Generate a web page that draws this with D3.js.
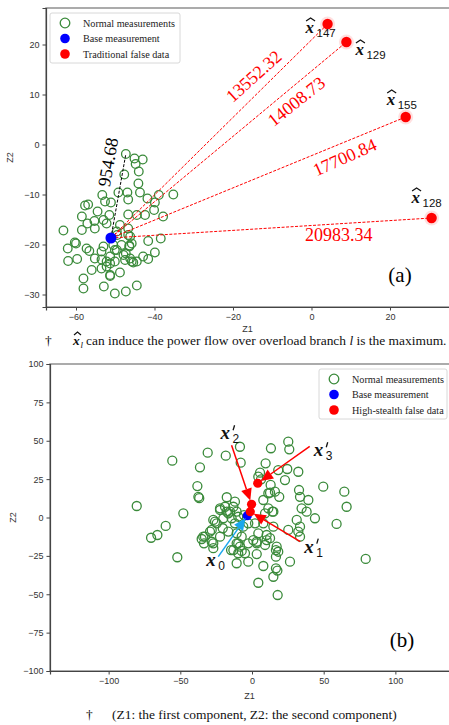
<!DOCTYPE html>
<html>
<head>
<meta charset="utf-8">
<script src="https://cdn.jsdelivr.net/npm/d3@7"></script>
<style>
  body { margin: 0; background: #fff; }
  svg { display: block; }
</style>
</head>
<body>
<svg id="chart" width="449" height="725"></svg>
<script>
// ---- panel (a) data ----
const topNormal = [
  [-47.3,-1.9],[-45.1,-2.8],[-43.0,-3.0],[-44.8,-3.9],[-47.7,-6.0],[-44.0,-5.4],[-44.1,-7.8],[-43.7,-9.6],
  [-46.9,-9.6],[-46.7,-11.0],[-49.2,-9.6],[-53.3,-10.1],[-52.6,-11.4],[-51.1,-11.6],[-56.9,-12.0],[-57.7,-12.2],
  [-51.5,-14.1],[-54.5,-13.4],[-58.5,-14.4],[-57.1,-15.8],[-55.3,-15.3],[-53.0,-15.1],[-55.2,-16.8],[-58.5,-17.1],
  [-63.2,-17.2],[-41.8,-10.8],[-39.9,-11.6],[-38.9,-10.1],[-44.5,-14.1],[-42.4,-14.1],[-46.7,-14.0],[-48.8,-16.1],
  [-46.7,-16.8],[-49.5,-18.1],[-46.2,-18.4],[-41.6,-19.3],[-38.4,-18.8],[-60.3,-19.6],[-62.1,-20.8],[-57.3,-20.8],
  [-56.6,-21.3],[-53.5,-21.4],[-50.1,-21.1],[-48.4,-20.1],[-46.4,-20.2],[-47.9,-22.1],[-46.2,-22.8],[-44.5,-23.4],
  [-42.9,-22.4],[-41.6,-22.9],[-39.9,-21.6],[-62.0,-23.3],[-59.7,-22.9],[-55.2,-22.8],[-52.2,-23.4],[-51.3,-22.4],
  [-50.1,-23.4],[-53.5,-24.8],[-56.0,-25.1],[-48.8,-25.6],[-51.3,-26.3],[-58.1,-26.8],[-58.1,-28.8],[-52.9,-28.4],
  [-50.1,-29.8],[-47.3,-29.4],[-44.5,-28.2],[-52.2,-15.8],[-35.2,-10.0],[-37.8,-14.4],[-40.1,-13.1],[-45.4,-23.6],
  [-49.6,-17.4],[-46.7,-18.1],[-45.8,-19.8],[-46.4,-20.4],[-49.6,-21.1],[-50.5,-20.1],[-47.3,-21.8],[-47.5,-23.1],
  [-45.8,-23.4],[-53.0,-20.4],[-53.5,-23.0],[-51.3,-23.8],[-52.2,-24.4],[-51.3,-26.1],[-60.0,-19.8]
];
const topBase = [-51.1, -18.7];
const topFalseIds = ['147', '129', '155', '128'];
const topFalseZ1 = [4.1, 8.9, 24.0, 30.6];
const topFalseZ2 = [24.1, 20.5, 5.5, -14.7];
const topFalseDist = ['13552.32', '14008.73', '17700.84', '20983.34'];
const nearestNormal = [-47.3, -1.9];
const nearestDist = '954.68';
const topXTicks = [-60, -40, -20, 0, 20];
const topYTicks = [20, 10, 0, -10, -20, -30];

// ---- panel (b) data ----
const botNormal = [
  [-80.4,7.5],[-55.6,37.0],[-30.9,42.2],[-18.3,40.3],[-36.3,32.7],[-38.1,20.5],[-37.4,13.5],[-36.8,12.6],
  [-47.9,2.7],[-60.2,-5.5],[-70.4,-13.2],[-66.0,-11.4],[-35.1,-14.0],[-33.5,-16.8],[-29.3,-9.2],[-27.0,-16.8],
  [-27.0,-20.0],[-22.3,-12.5],[-25.8,-2.7],[-20.4,-7.0],[-22.3,4.9],[-17.6,3.8],[-20.0,-0.5],[-17.6,13.2],
  [-52.1,-25.9],[-14.6,-21.2],[-7.2,-21.8],[-10.7,-29.8],[-2.6,-28.8],[3.3,-16.8],[7.9,-31.6],[3.3,-23.8],
  [17.2,-19.0],[16.7,-21.2],[16.7,-25.5],[16.7,-33.1],[17.7,-34.6],[14.9,-38.6],[4.4,-42.5],[17.9,-50.5],
  [26.5,-28.8],[79.3,-27.0],[-9.6,-16.8],[10.2,-14.7],[-8.4,46.1],[-7.9,35.7],[-22.3,6.0],[-16.5,2.7],
  [-13.0,7.0],[-10.7,3.8],[-14.2,-0.5],[-9.6,0.5],[-5.6,1.6],[-28.1,-8.1],[-32.8,-12.5],[-16.5,-9.2],
  [-10.7,-10.3],[-7.2,-12.5],[-2.6,-3.8],[0.9,-14.7],[-13.0,-21.2],[-8.4,-19.0],[-9.6,-23.3],[-4.9,-23.3],
  [25.3,49.4],[26.0,44.4],[13.2,45.1],[9.5,35.3],[18.3,30.9],[24.6,31.6],[32.3,29.8],[5.6,29.2],
  [6.3,24.9],[23.0,24.4],[13.0,21.2],[49.7,20.1],[64.4,16.8],[66.0,7.0],[59.0,-4.2],[32.8,17.9],
  [33.5,13.5],[38.1,3.8],[43.9,-0.5],[39.3,11.4],[34.6,6.0],[12.6,16.2],[19.0,13.5],[7.9,11.4],
  [11.4,6.0],[14.9,3.8],[31.2,-1.6],[33.5,-6.0],[25.3,-8.1],[32.3,-9.2],[33.5,-12.5],[7.9,-3.8],
  [14.9,-6.0],[4.4,-10.3],[10.2,-11.4],[3.3,-15.8],[18.3,-22.3],[-2.6,-16.8],[-10.7,-16.8],[-11.9,10.3],
  [-18.8,7.0],[-15.3,3.8],[-27.0,-1.6],[-24.6,-3.8],[-11.9,-3.8],[-6.1,-6.0],[2.1,-3.8],[9.1,2.7],
  [14.2,3.8],[11.4,15.8],[16.0,16.8],[4.4,26.6],[-34.0,-12.5],[-28.1,-15.8],[9.1,-17.9],[12.6,-13.5]
];
const botBase = [-3.3, 1.2];
const botFalseZ1 = [-1.2, -0.3, 4.0];   // x'1, x'2, x'3
const botFalseZ2 = [3.8, 8.6, 22.3];
const botXTicks = [-100, -50, 0, 50, 100];
const botYTicks = [100, 75, 50, 25, 0, -25, -50, -75, -100];

const svg = d3.select('#chart');
svg.append('rect').attr('width', 449).attr('height', 725).attr('fill', '#fff');

const green = '#3a8a3a';
const serif = "'Liberation Serif', 'Times New Roman', serif";
const sans = "'Liberation Sans', Arial, sans-serif";

// Scales
const xA = d3.scaleLinear().domain([-67.64, 35.8]).range([46, 452]);
const yA = d3.scaleLinear().domain([-32.5, 27.3]).range([307, 8]);
const xB = d3.scaleLinear().domain([-140.9, 140.9]).range([50, 454]);
const yB = d3.scaleLinear().domain([-100, 100]).range([671, 364]);

// shrink or grow a text's font so that it spans the given width
function fitWidth(sel, width) {
  const w = sel.node().getComputedTextLength();
  const fs = parseFloat(sel.style('font-size'));
  const nfs = fs * width / w;
  sel.style('font-size', nfs + 'px');
  return nfs;
}

function drawAxes(x, y, xTicks, yTicks, xLabelY, yLabelX) {
  const [x0, x1] = x.range();
  const [y0, y1] = y.range();
  svg.append('rect')
    .attr('x', x0).attr('y', y1)
    .attr('width', x1 - x0).attr('height', y0 - y1)
    .attr('fill', 'none').attr('stroke', '#888').attr('stroke-width', 1.4);

  const gx = svg.append('g').attr('transform', `translate(0,${y0})`)
    .call(d3.axisBottom(x).tickValues(xTicks).tickSize(3.5).tickPadding(3).tickFormat(d3.format('d')));
  const gy = svg.append('g').attr('transform', `translate(${x0},0)`)
    .call(d3.axisLeft(y).tickValues(yTicks).tickSize(3.5).tickPadding(3).tickFormat(d3.format('d')));
  [gx, gy].forEach(g => {
    g.select('.domain').attr('stroke', '#444').attr('stroke-width', 1.2);
    g.selectAll('.tick line').attr('stroke', '#444');
    g.selectAll('.tick text').attr('fill', '#333').style('font-family', sans).style('font-size', '9px');
  });

  svg.append('text')
    .attr('x', (x0 + 449) / 2).attr('y', xLabelY)
    .attr('text-anchor', 'middle')
    .style('font-family', sans).style('font-size', '9px').attr('fill', '#333')
    .text('Z1');
  const ym = (y0 + y1) / 2;
  svg.append('text')
    .attr('transform', `translate(${yLabelX},${ym}) rotate(-90)`)
    .attr('text-anchor', 'middle')
    .style('font-family', sans).style('font-size', '9px').attr('fill', '#333')
    .text('Z2');
}

function normalCircles(data, x, y, r) {
  svg.append('g').selectAll('circle')
    .data(data)
    .enter()
    .append('circle')
    .attr('cx', d => x(d[0]))
    .attr('cy', d => y(d[1]))
    .attr('r', r)
    .attr('fill', 'none')
    .attr('stroke', green)
    .attr('stroke-width', 1.3);
}

function legend(bx, by, bw, labels) {
  svg.append('rect')
    .attr('x', bx).attr('y', by).attr('width', bw).attr('height', 50)
    .attr('rx', 2).attr('fill', '#fff').attr('stroke', '#d8d8d8');
  labels.forEach((lab, i) => {
    const cy = by + 10 + i * 15.5;
    const c = svg.append('circle').attr('cx', bx + 15).attr('cy', cy).attr('r', 4.8);
    if (i === 0) c.attr('fill', 'none').attr('stroke', green).attr('stroke-width', 1.3);
    else c.attr('fill', i === 1 ? '#0000ff' : '#ff0000');
    svg.append('text')
      .attr('x', bx + 33).attr('y', cy + 3.5)
      .style('font-family', serif).style('font-size', '10.2px').attr('fill', '#222')
      .text(lab);
  });
}

// hat over a bold italic x
function hat(cx, top, w) {
  svg.append('path')
    .attr('d', `M${cx - w / 2},${top + 3} L${cx},${top} L${cx + w / 2},${top + 3}`)
    .attr('fill', 'none').attr('stroke', '#111').attr('stroke-width', 1.2);
}

// ================= panel (a) =================
drawAxes(xA, yA, topXTicks, topYTicks, 332, 13);
normalCircles(topNormal, xA, yA, 4.3);

const bxA = xA(topBase[0]), byA = yA(topBase[1]);

// dashed red lines from base to each false point
topFalseZ1.forEach((z1, i) => {
  svg.append('line')
    .attr('x1', bxA).attr('y1', byA)
    .attr('x2', xA(z1)).attr('y2', yA(topFalseZ2[i]))
    .attr('stroke', '#ff0000').attr('stroke-width', 1)
    .attr('stroke-dasharray', '3,1.5');
});
// dashed black line to nearest normal measurement
svg.append('line')
  .attr('x1', bxA).attr('y1', byA)
  .attr('x2', xA(nearestNormal[0])).attr('y2', yA(nearestNormal[1]))
  .attr('stroke', '#000').attr('stroke-width', 1)
  .attr('stroke-dasharray', '3,1.5');

svg.append('circle').attr('cx', bxA).attr('cy', byA).attr('r', 5.5).attr('fill', '#0000ff');

topFalseZ1.forEach((z1, i) => {
  const px = xA(z1), py = yA(topFalseZ2[i]);
  svg.append('circle').attr('cx', px).attr('cy', py).attr('r', 7.5).attr('fill', '#ff0000').attr('opacity', 0.12);
  svg.append('circle').attr('cx', px).attr('cy', py).attr('r', 5.2).attr('fill', '#ff0000');
});

// distance labels along the lines: [fraction along line, perpendicular offset, rotation]
const distPlace = [[0.707, -15, -42], [0.75, 13.4, -38.5], [0.775, 13.9, -24], [0.708, 11.2, 0]];
function alongLabel(p0, p1, t, c, rot, txt, color) {
  const dx = p1[0] - p0[0], dy = p1[1] - p0[1];
  const len = Math.hypot(dx, dy);
  const ux = dx / len, uy = dy / len;
  const cx = p0[0] + t * dx - c * uy;
  const cy = p0[1] + t * dy + c * ux;
  svg.append('text')
    .attr('transform', `translate(${cx},${cy}) rotate(${rot})`)
    .attr('text-anchor', 'middle')
    .attr('dy', '0.35em')
    .style('font-family', serif).style('font-size', '18px')
    .attr('fill', color)
    .text(txt);
}
topFalseZ1.forEach((z1, i) => {
  const p = distPlace[i];
  alongLabel([bxA, byA], [xA(z1), yA(topFalseZ2[i])], p[0], p[1], p[2], topFalseDist[i], '#ff0000');
});
alongLabel([bxA, byA], [xA(nearestNormal[0]), yA(nearestNormal[1])], 0.87, -16.3, -80, nearestDist, '#000');

// x-hat labels, offsets relative to their point
const hatOffset = [[-22, 9], [9, 13], [-19, -12], [-20, -15]];
topFalseZ1.forEach((z1, i) => {
  const lx = xA(z1) + hatOffset[i][0];
  const ly = yA(topFalseZ2[i]) + hatOffset[i][1];
  svg.append('text')
    .attr('x', lx).attr('y', ly)
    .style('font-family', serif).style('font-size', '17px')
    .style('font-weight', 'bold').style('font-style', 'italic')
    .attr('fill', '#111')
    .text('x');
  hat(lx + 5, ly - 15, 9);
  svg.append('text')
    .attr('x', lx + 11).attr('y', ly + 4)
    .style('font-family', sans).style('font-size', '11.5px')
    .attr('fill', '#111')
    .text(topFalseIds[i]);
});

svg.append('text')
  .attr('x', 400).attr('y', 282)
  .attr('text-anchor', 'middle')
  .style('font-family', serif).style('font-size', '21px')
  .text('(a)');

legend(50, 13, 130, ['Normal measurements', 'Base measurement', 'Traditional false data']);

// footnote (a)
const fn = svg.append('text').attr('x', 86).attr('y', 345)
  .style('font-family', serif).style('font-size', '13px').attr('fill', '#111');
fn.append('tspan').text('can induce the power flow over overload branch ');
fn.append('tspan').style('font-style', 'italic').text('l');
fn.append('tspan').text(' is the maximum.');
const fnSize = fitWidth(fn, 361);
svg.append('text').attr('x', 45).attr('y', 345)
  .style('font-family', serif).style('font-size', fnSize + 'px').text('†');
svg.append('text').attr('x', 73).attr('y', 345)
  .style('font-family', serif).style('font-size', fnSize + 'px').attr('fill', '#111')
  .style('font-weight', 'bold').style('font-style', 'italic')
  .text('x');
hat(77.5, 332, 7);
svg.append('text').attr('x', 80.5).attr('y', 348)
  .style('font-family', serif).style('font-size', '9px').style('font-style', 'italic').attr('fill', '#111')
  .text('l');

// ================= panel (b) =================
drawAxes(xB, yB, botXTicks, botYTicks, 699, 16);
normalCircles(botNormal, xB, yB, 4.5);

const bxB = xB(botBase[0]), byB = yB(botBase[1]);
svg.append('circle').attr('cx', bxB).attr('cy', byB).attr('r', 4.6).attr('fill', '#0000ff');
botFalseZ1.forEach((z1, i) => {
  svg.append('circle').attr('cx', xB(z1)).attr('cy', yB(botFalseZ2[i])).attr('r', 4.6).attr('fill', '#ff0000');
});

// arrow from (sx,sy) to (tx,ty) with a filled head
function arrow(sx, sy, tx, ty, color, gap) {
  const dx = tx - sx, dy = ty - sy;
  const len = Math.hypot(dx, dy);
  const ux = dx / len, uy = dy / len;
  const ex = tx - ux * gap, ey = ty - uy * gap;
  const hl = 12, hw = 5.5;
  const bx = ex - ux * hl, by = ey - uy * hl;
  svg.append('line')
    .attr('x1', sx).attr('y1', sy).attr('x2', bx).attr('y2', by)
    .attr('stroke', color).attr('stroke-width', 1.5);
  svg.append('path')
    .attr('d', `M${ex},${ey} L${bx - uy * hw},${by + ux * hw} L${bx + uy * hw},${by - ux * hw} Z`)
    .attr('fill', color);
}

// prime labels: point index, arrow start offset, label offset, subscript
const primeLab = [
  { i: 0, start: [50, 30], lab: [54, 41], sub: '1' },
  { i: 1, start: [-20, -59], lab: [-31, -65], sub: '2' },
  { i: 2, start: [52, -37], lab: [56, -27], sub: '3' }
];
function xLabel(lx, ly, sub, prime) {
  svg.append('text').attr('x', lx).attr('y', ly)
    .style('font-family', serif).style('font-size', '19px')
    .style('font-weight', 'bold').style('font-style', 'italic')
    .attr('fill', '#111').text('x');
  if (prime) {
    // prime mark drawn as a short stroke
    svg.append('path')
      .attr('d', `M${lx + 14},${ly - 14} L${lx + 12.5},${ly - 9}`)
      .attr('stroke', '#111').attr('stroke-width', 1.3);
  }
  svg.append('text').attr('x', lx + 12).attr('y', ly + 4)
    .style('font-family', sans).style('font-size', '12px').attr('fill', '#111').text(sub);
}
primeLab.forEach(p => {
  const px = xB(botFalseZ1[p.i]), py = yB(botFalseZ2[p.i]);
  arrow(px + p.start[0], py + p.start[1], px, py, '#ff0000', 4);
  xLabel(px + p.lab[0], py + p.lab[1], p.sub, true);
});
// base measurement arrow
arrow(bxB - 29, byB + 41, bxB, byB, '#1aa7ec', 3);
xLabel(bxB - 41, byB + 50, '0', false);

svg.append('text')
  .attr('x', 402).attr('y', 647)
  .attr('text-anchor', 'middle')
  .style('font-family', serif).style('font-size', '21px')
  .text('(b)');

legend(319, 369, 128, ['Normal measurements', 'Base measurement', 'High-stealth false data']);

// footnote (b)
const fnb = svg.append('text').attr('x', 112).attr('y', 719)
  .style('font-family', serif).style('font-size', '12.5px').attr('fill', '#111')
  .text('(Z1: the first component, Z2: the second component)');
const fnbSize = fitWidth(fnb, 285);
svg.append('text').attr('x', 86).attr('y', 719)
  .style('font-family', serif).style('font-size', fnbSize + 'px').text('†');
</script>
</body>
</html>
